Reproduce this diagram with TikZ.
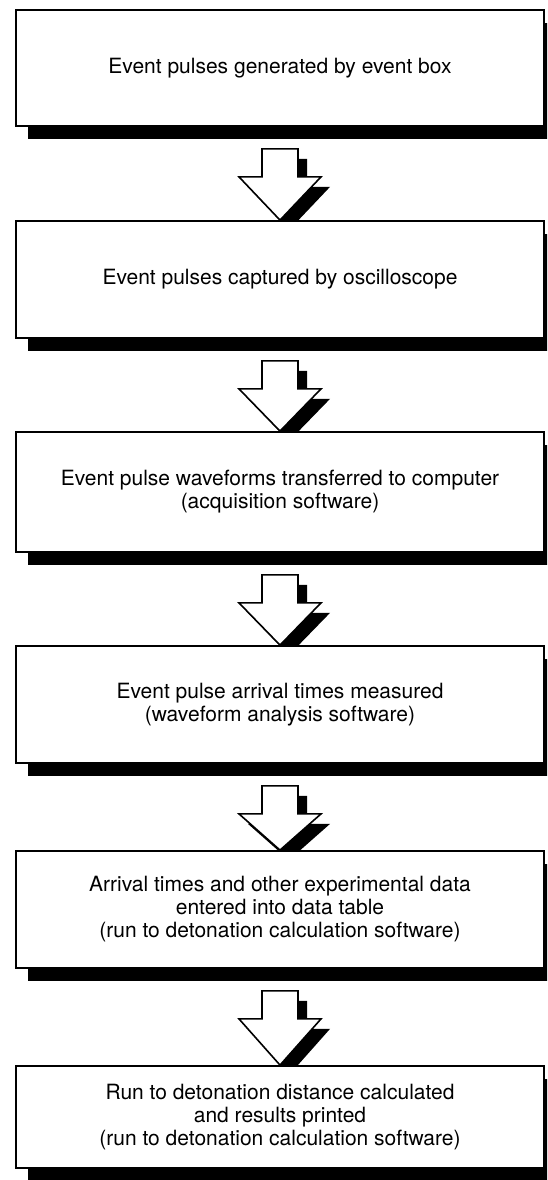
\documentclass[tikz,border=0pt]{standalone}
\usepackage{fontspec}
\setmainfont{TeX Gyre Heros}
\usetikzlibrary{calc,shadows}
\pgfdeclarelayer{bg}
\pgfsetlayers{bg,main}
\tikzset{
  stepbox/.style={draw=black, line width=1.8pt, fill=white, minimum width=528pt, inner sep=0pt,
    align=center, font=\fontsize{21}{23}\selectfont,
    drop shadow={shadow xshift=12pt, shadow yshift=-13pt, fill=black, opacity=1}},
  arrowshadow/.style={fill=black},
  arrowbody/.style={fill=white, draw=black, line width=1.6pt, line join=miter},
}
\newcommand\blockarrow[2]{%
  \fill[arrowshadow] let \p1=($(#1.south)+(0,22)$), \p2=(#2.north) in
    (\x1-9pt,\y1-10pt) -- (\x1+27pt,\y1-10pt) -- (\x1+27pt,\y1-38pt) -- (\x1+50pt,\y1-38pt)
    -- (\x1+9pt,\y2-10pt) -- (\x1-32pt,\y1-38pt) -- (\x1-9pt,\y1-38pt) -- cycle;
  \filldraw[arrowbody] let \p1=($(#1.south)+(0,22)$), \p2=(#2.north) in
    (\x1-18pt,\y1) -- (\x1+18pt,\y1) -- (\x1+18pt,\y1-28pt) -- (\x1+41pt,\y1-28pt)
    -- (\x1,\y2) -- (\x1-41pt,\y1-28pt) -- (\x1-18pt,\y1-28pt) -- cycle;
}
\begin{document}
\begin{tikzpicture}[x=1pt,y=-1pt]
\useasboundingbox (0,0) rectangle (547,1180);
\clip (0,0) rectangle (547,1180);
\node[stepbox, minimum height=116pt] (b1) at (280,68) {Event pulses generated by event box};
\node[stepbox, minimum height=117pt] (b2) at (280,279.5) {Event pulses captured by oscilloscope};
\node[stepbox, minimum height=120pt] (b3) at (280,492) {Event pulse waveforms transferred to computer\\(acquisition software)};
\node[stepbox, minimum height=117pt] (b4) at (280,704.5) {Event pulse arrival times measured\\(waveform analysis software)};
\node[stepbox, minimum height=117pt] (b5) at (280,909.5) {Arrival times and other experimental data\\entered into data table\\(run to detonation calculation software)};
\node[stepbox, minimum height=102pt] (b6) at (280,1117) {Run to detonation distance calculated\\and results printed\\(run to detonation calculation software)};
\begin{pgfonlayer}{bg}
\blockarrow{b1}{b2}
\blockarrow{b2}{b3}
\blockarrow{b3}{b4}
\blockarrow{b4}{b5}
\blockarrow{b5}{b6}
\end{pgfonlayer}
\end{tikzpicture}
\end{document}
